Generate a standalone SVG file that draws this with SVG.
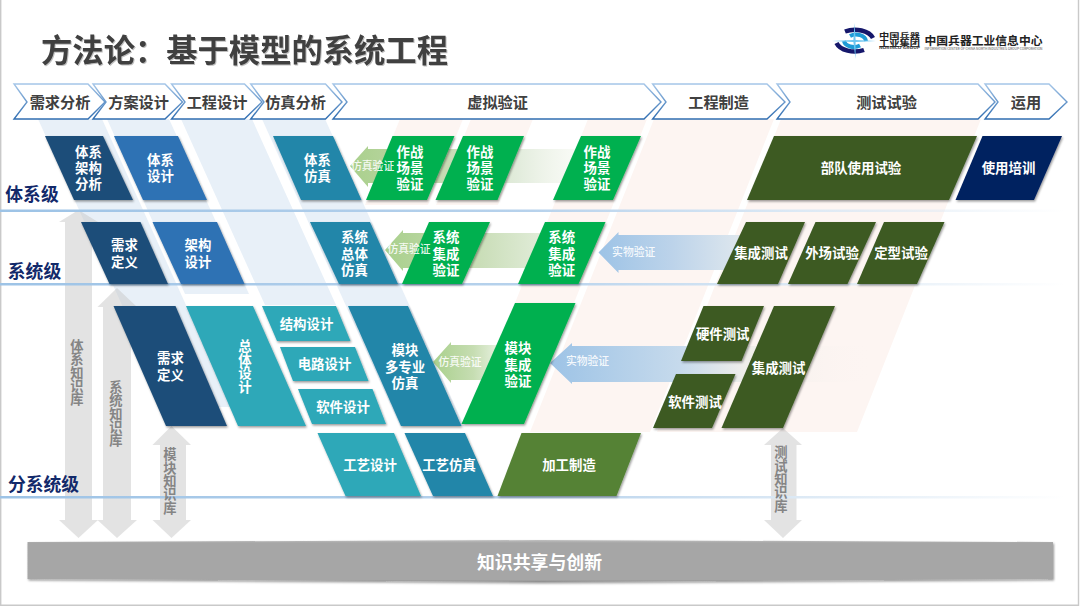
<svg xmlns="http://www.w3.org/2000/svg" width="1080" height="606" viewBox="0 0 1080 606">
<style>
text{font-family:"Noto Sans CJK SC","Noto Sans",sans-serif;text-anchor:middle;dominant-baseline:central;transform:translateY(-1px)}
.w{fill:#fff;font-size:13.4px;font-weight:700}
.v{writing-mode:vertical-rl}
.el{fill:#fff;font-size:10.8px;font-weight:500;fill-opacity:.9}
.h{fill:#404040;font-size:15.2px;font-weight:700}
.lv{fill:#12296a;font-size:17.8px;font-weight:700}
.k{fill:#858585;font-size:13.3px;font-weight:700;writing-mode:vertical-rl}
.chev{fill:#fff;stroke:url(#cs);stroke-width:1.4}
.bb{fill:#e8f0f8}.pb{fill:#fdf5f2}
.ga{fill:#c8c8c8;fill-opacity:.5}
.n{filter:url(#sh)}
.a{fill:#1f4e79}.b{fill:#2e72b4}.c{fill:#2186a9}.d{fill:#2ea8b8}.g{fill:#00b050}.o{fill:#3c5a23}.nv{fill:#002060}.l{fill:#548235}
</style>
<defs>
<filter id="sh" x="-10%" y="-10%" width="125%" height="125%"><feDropShadow dx="1" dy="1.5" stdDeviation="1" flood-color="#000" flood-opacity=".4"/></filter>
<filter id="ts" x="-5%" y="-10%" width="110%" height="125%"><feDropShadow dx="1" dy="1" stdDeviation=".7" flood-color="#000" flood-opacity=".25"/></filter>
<linearGradient id="cs" x1="0" y1="0" x2="0" y2="1"><stop offset="0" stop-color="#a5c6e8"/><stop offset="1" stop-color="#2e6cb0"/></linearGradient>
<linearGradient id="ln" x1="0" y1="0" x2="1" y2="0"><stop offset="0" stop-color="#9dc3e6"/><stop offset=".5" stop-color="#b7d2ec"/><stop offset=".75" stop-color="#dce9f5"/><stop offset="1" stop-color="#dce9f5" stop-opacity="0"/></linearGradient>
<linearGradient id="gr1" x1="0" y1="0" x2="1" y2="0"><stop offset="0" stop-color="#a9d08c"/><stop offset=".3" stop-color="#bfd6a8"/><stop offset=".7" stop-color="#e2ecdc"/><stop offset="1" stop-color="#f4f6ee" stop-opacity=".3"/></linearGradient>
<linearGradient id="gr2" x1="0" y1="0" x2="1" y2="0"><stop offset="0" stop-color="#a9d08c"/><stop offset=".45" stop-color="#c2d9ad"/><stop offset="1" stop-color="#e4eedd"/></linearGradient>
<linearGradient id="gr3" x1="0" y1="0" x2="1" y2="0"><stop offset="0" stop-color="#a9d08c"/><stop offset=".6" stop-color="#c6ddb2"/><stop offset="1" stop-color="#eaf2e3"/></linearGradient>
<linearGradient id="bl1" x1="0" y1="0" x2="1" y2="0"><stop offset="0" stop-color="#9dc3e6"/><stop offset=".5" stop-color="#bcd3ea"/><stop offset="1" stop-color="#e0e8ee"/></linearGradient>
<linearGradient id="bl2" x1="0" y1="0" x2="1" y2="0"><stop offset="0" stop-color="#9dc3e6"/><stop offset=".4" stop-color="#c6daec"/><stop offset=".6" stop-color="#efeeea"/><stop offset="1" stop-color="#fdf5f2" stop-opacity="0"/></linearGradient>
<linearGradient id="bar" x1="0" y1="0" x2="0" y2="1"><stop offset="0" stop-color="#c0c0c0"/><stop offset=".07" stop-color="#a6a6a6"/><stop offset=".95" stop-color="#a6a6a6"/><stop offset="1" stop-color="#8c8c8c"/></linearGradient>
</defs>

<g id="frame"><rect x="0" y="0" width="1080" height="606" fill="#fff"/>
<path d="M.7 0V605.3H1078.5V0" fill="none" stroke="#c9c9c9" stroke-width="1.4"/></g>

<g id="bands">
<polygon class="bb" points="38,119 102,119 232,407 168,407"/>
<polygon class="bb" points="107,119 169,119 249,294 185,294"/>
<polygon class="bb" points="181,119 252,119 336,305 265,305"/>
<polygon class="bb" points="262,119 325,119 464,426 400,426"/>
<polygon class="pb" points="400,119 463,119 428,205 365,205"/>
<polygon class="pb" points="471,119 533,119 498,205 436,205"/>
<polygon class="pb" points="588,119 647,119 526,424 467,424"/>
<polygon class="pb" points="654,119 774,119 650,432 530,432"/>
<polygon class="pb" points="781,119 981,119 857,432 657,432"/>
</g>

<g id="connectors">
<path class="ga" d="M78.500 210L98 222H92V520H98L78.500 538L59 520H65V222H59Z"/>
<path class="ga" d="M117 288L137 307H131V520H137L117 538L97.500 520H103V307H97.500Z"/>
<path class="ga" d="M171.500 426L191 445H186V520H191L171.500 538L152.500 520H160V445H152.500Z"/>
<path class="ga" d="M783 428L802 445H796.500V520H802L783 538L764 520H771V445H764Z"/>
<path fill="url(#gr1)" d="M350 166L368 146V149H590V183H368V187Z"/>
<path fill="url(#gr2)" d="M385 250L403 230V233H550V268H403V271Z"/>
<path fill="url(#gr3)" d="M433 362L451 342V345H500V380H451V383Z"/>
<path fill="url(#bl1)" d="M598.500 252.500L618.500 232V235H745V270H618.500V273Z"/>
<path fill="url(#bl2)" d="M550 363L572 343V346H875V382H572V384Z"/>
</g>

<g id="levels">
<rect x="0" y="209.500" width="1065" height="2.500" fill="url(#ln)"/>
<rect x="0" y="283" width="1065" height="2.500" fill="url(#ln)"/>
<rect x="0" y="496" width="1065" height="2.500" fill="url(#ln)"/>
<text class="lv" x="32" y="194">体系级</text>
<text class="lv" x="34.500" y="271">系统级</text>
<text class="lv" x="43.500" y="484">分系统级</text>
</g>

<g id="title"><text x="244.500" y="49" fill="#404040" font-size="31.300" font-weight="700" filter="url(#ts)">方法论：基于模型的系统工程</text></g>

<g id="logo">
<path d="M845 31.500A19 12 0 0 1 873 38" fill="none" stroke="#15176b" stroke-width="4.500"/>
<path d="M864 50A19 12 0 0 1 836.500 43" fill="none" stroke="#15176b" stroke-width="4.500"/>
<path d="M850 36A10 7 0 0 1 866 41" fill="none" stroke="#1e9bd7" stroke-width="4"/>
<path d="M860 45.500A10 7 0 0 1 844 41" fill="none" stroke="#1e9bd7" stroke-width="4"/>
<path d="M854.500 23L855.600 40L876 41L855.600 42L855.500 59L853.400 42L832 41L853.400 40Z" fill="#6cc5f0"/>
<text x="899.500" y="36" fill="#222" font-size="7.600" font-weight="700" textLength="41" lengthAdjust="spacingAndGlyphs">中国兵器</text>
<text x="899.500" y="43.500" fill="#222" font-size="7.600" font-weight="700" textLength="41" lengthAdjust="spacingAndGlyphs">工业集团</text>
<text x="899.500" y="49" fill="#333" font-size="3" font-weight="700" textLength="41" lengthAdjust="spacingAndGlyphs">NORINCO GROUP</text>
<text x="983.500" y="40" fill="#222" font-size="11.800" font-weight="700">中国兵器工业信息中心</text>
<text x="983.500" y="49" fill="#444" font-size="3.600" textLength="118" lengthAdjust="spacingAndGlyphs">INFORMATION CENTER OF CHINA NORTH INDUSTRIES GROUP CORPORATION</text>
</g>

<g id="stages">
<g id="s1"><polygon class="chev" points="14,84 88,84 105,102 88,119 14,119 27,102"/><text class="h" x="60" y="102">需求分析</text></g>
<g id="s2"><polygon class="chev" points="93,84 165,84 182.500,102 165,119 93,119 106,102"/><text class="h" x="138.600" y="102">方案设计</text></g>
<g id="s3"><polygon class="chev" points="171.500,84 244.500,84 262,102 244.500,119 171.500,119 185,102"/><text class="h" x="217" y="102">工程设计</text></g>
<g id="s4"><polygon class="chev" points="250.700,84 325.500,84 342,102 325.500,119 250.700,119 264,102"/><text class="h" x="295.500" y="102">仿真分析</text></g>
<g id="s5"><polygon class="chev" points="333,84 644,84 661,102 644,119 333,119 347,102"/><text class="h" x="497.600" y="102">虚拟验证</text></g>
<g id="s6"><polygon class="chev" points="652.600,84 767,84 785,102 767,119 652.600,119 666,102"/><text class="h" x="718.600" y="102">工程制造</text></g>
<g id="s7"><polygon class="chev" points="777,84 978,84 995,102 978,119 777,119 790,102"/><text class="h" x="886.500" y="102">测试试验</text></g>
<g id="s8"><polygon class="chev" points="985,84 1049,84 1067,102 1049,119 985,119 998,102"/><text class="h" x="1026" y="102">运用</text></g>
</g>

<g id="n1"><polygon class="n a" points="45,136 103,136 133,200 74,200"/><text class="w" x="88.500" y="152"><tspan x="88.500">体系</tspan><tspan x="88.500" dy="16">架构</tspan><tspan x="88.500" dy="16">分析</tspan></text></g>
<g id="n2"><polygon class="n b" points="114,136 178,136 207,200 143,200"/><text class="w" x="160.500" y="160"><tspan x="160.500">体系</tspan><tspan x="160.500" dy="16">设计</tspan></text></g>
<g id="n3"><polygon class="n c" points="273,136 333,136 361.500,200 301,200"/><text class="w" x="317.500" y="160"><tspan x="317.500">体系</tspan><tspan x="317.500" dy="16">仿真</tspan></text></g>
<g id="n4"><polygon class="n g" points="392.500,136 454.500,136 427,200 366,200"/><text class="w" x="410" y="152"><tspan x="410">作战</tspan><tspan x="410" dy="16">场景</tspan><tspan x="410" dy="16">验证</tspan></text></g>
<g id="n5"><polygon class="n g" points="463,136 524,136 497.500,200 435.500,200"/><text class="w" x="480" y="152"><tspan x="480">作战</tspan><tspan x="480" dy="16">场景</tspan><tspan x="480" dy="16">验证</tspan></text></g>
<g id="n6"><polygon class="n g" points="581,136 641,136 613,200 553,200"/><text class="w" x="597" y="152"><tspan x="597">作战</tspan><tspan x="597" dy="16">场景</tspan><tspan x="597" dy="16">验证</tspan></text></g>
<g id="n7"><polygon class="n o" points="774,136 977,136 949,200 747,200"/><text class="w" x="861" y="168">部队使用试验</text></g>
<g id="n8"><polygon class="n nv" points="982.500,136 1062,136 1034,200 955.500,200"/><text class="w" x="1008.500" y="168">使用培训</text></g>

<g id="n9"><polygon class="n a" points="81,222 140.500,222 168,284 109.500,284"/><text class="w" x="124.500" y="245"><tspan x="124.500">需求</tspan><tspan x="124.500" dy="16.500">定义</tspan></text></g>
<g id="n10"><polygon class="n b" points="152.500,222 217,222 244.500,284 181,284"/><text class="w" x="198" y="245"><tspan x="198">架构</tspan><tspan x="198" dy="16.500">设计</tspan></text></g>
<g id="n11"><polygon class="n c" points="310,222 370,222 398,284 339,284"/><text class="w" x="354.500" y="237"><tspan x="354.500">系统</tspan><tspan x="354.500" dy="16.500">总体</tspan><tspan x="354.500" dy="16.500">仿真</tspan></text></g>
<g id="n12"><polygon class="n g" points="429,222 490,222 462,284 402,284"/><text class="w" x="446" y="237"><tspan x="446">系统</tspan><tspan x="446" dy="16.500">集成</tspan><tspan x="446" dy="16.500">验证</tspan></text></g>
<g id="n13"><polygon class="n g" points="545,222 605.500,222 578.500,284 518,284"/><text class="w" x="561.700" y="237"><tspan x="561.700">系统</tspan><tspan x="561.700" dy="16.500">集成</tspan><tspan x="561.700" dy="16.500">验证</tspan></text></g>
<g id="n14"><polygon class="n o" points="746,222 805,222 778,284 717,284"/><text class="w" x="761" y="253">集成测试</text></g>
<g id="n15"><polygon class="n o" points="815.500,222 876,222 847.500,284 788,284"/><text class="w" x="832" y="253">外场试验</text></g>
<g id="n16"><polygon class="n o" points="884,222 944.500,222 917,284 857,284"/><text class="w" x="901" y="253">定型试验</text></g>

<g id="n17"><polygon class="n a" points="113.500,306 175.500,306 227,426 166,426"/><text class="w" x="170.500" y="358"><tspan x="170.500">需求</tspan><tspan x="170.500" dy="16.500">定义</tspan></text></g>
<g id="n18"><polygon class="n d" points="186,306 253,306 306,426 238,426"/><text class="w v" x="245" y="367.500">总体设计</text></g>
<g id="n19"><polygon class="n d" points="262,306 336,306 350.500,341 277,341"/><text class="w" x="306.500" y="324">结构设计</text></g>
<g id="n20"><polygon class="n d" points="280,347 355,347 368.500,381 293,381"/><text class="w" x="324.500" y="364">电路设计</text></g>
<g id="n21"><polygon class="n d" points="298,389 372.500,389 386,424 312,424"/><text class="w" x="343" y="406.700">软件设计</text></g>
<g id="n22"><polygon class="n c" points="348,306 408,306 461.500,426 401,426"/><text class="w" x="405" y="350"><tspan x="405">模块</tspan><tspan x="405" dy="16.500">多专业</tspan><tspan x="405" dy="16.500">仿真</tspan></text></g>
<g id="n23"><polygon class="n g" points="515,303 575.500,303 524,424 461.500,424"/><text class="w" x="518" y="348"><tspan x="518">模块</tspan><tspan x="518" dy="16.500">集成</tspan><tspan x="518" dy="16.500">验证</tspan></text></g>
<g id="n24"><polygon class="n o" points="703.500,306 764,306 741.500,361 681,361"/><text class="w" x="722.700" y="334">硬件测试</text></g>
<g id="n25"><polygon class="n o" points="676,374 735.500,374 712,428 653,428"/><text class="w" x="695" y="401.700">软件测试</text></g>
<g id="n26"><polygon class="n o" points="774,306 835,306 783,428 721.500,428"/><text class="w" x="778.600" y="367.700">集成测试</text></g>

<g id="n27"><polygon class="n d" points="317.500,433 394,433 421,496 345.500,496"/><text class="w" x="370" y="465">工艺设计</text></g>
<g id="n28"><polygon class="n c" points="404.500,433 465,433 493,496 433,496"/><text class="w" x="449" y="465">工艺仿真</text></g>
<g id="n29"><polygon class="n l" points="521.500,433 641,433 616.500,496 497.500,496"/><text class="w" x="569" y="465">加工制造</text></g>

<g id="connector-labels">
<text class="el" x="372.600" y="166">仿真验证</text>
<text class="el" x="409" y="249">仿真验证</text>
<text class="el" x="460" y="361.700">仿真验证</text>
<text class="el" x="633.700" y="252">实物验证</text>
<text class="el" x="587.500" y="361">实物验证</text>
<text class="k" x="77" y="373.500">体系知识库</text>
<text class="k" x="116" y="414.500">系统知识库</text>
<text class="k" x="170" y="482">模块知识库</text>
<text class="k" x="781" y="480">测试知识库</text>
</g>

<g id="kb"><polygon points="27.500,542 540,540 1053,542 1053,579 540,582 27.500,579" fill="url(#bar)" filter="url(#sh)"/>
<text x="539.500" y="562" fill="#fff" font-size="17.900" font-weight="700">知识共享与创新</text></g>
</svg>
